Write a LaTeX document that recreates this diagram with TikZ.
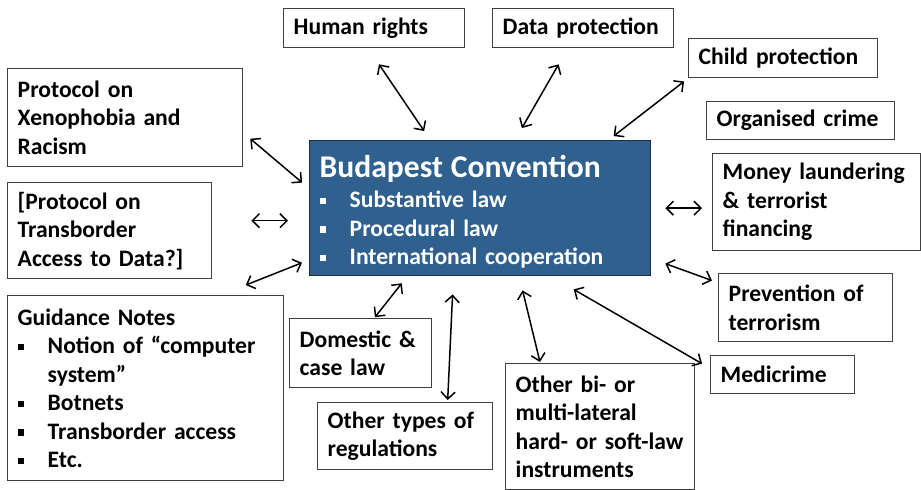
\documentclass[tikz,border=0pt]{standalone}
\usepackage{fontspec}
\setmainfont{Carlito}
\usepackage{tikz}
\usetikzlibrary{arrows.meta}

\definecolor{convblue}{RGB}{47,96,142}
\definecolor{convedge}{RGB}{28,50,74}
\newcommand{\sqb}[1][black]{\makebox[15pt][l]{\textcolor{#1}{\rule[1.6pt]{3.3pt}{3.3pt}}}}

\begin{document}
\begin{tikzpicture}[x=0.5pt, y=-0.5pt,
  box/.style={draw=black!75, line width=0.7pt, anchor=north west, align=left,
    inner xsep=5pt, inner ysep=0pt, font={\fontsize{11.8}{14.25}\selectfont\bfseries}},
  link/.style={{Straight Barb[length=3.5pt,width=7pt]}-{Straight Barb[length=3.5pt,width=7pt]},
    line width=0.75pt}]
\useasboundingbox (0,0) rectangle (921,490);

% centre
\node[box, draw=convedge, fill=convblue, text=white, text width=160.5pt, minimum height=67.5pt] (bc) at (309,140)
  {\rule{0pt}{14.5pt}{\fontsize{15.8}{19}\selectfont Budapest Convention}\\[1pt]
   \sqb[white]Substantive law\\ \sqb[white]Procedural law\\ \sqb[white]International cooperation};

% top row
\node[box, text width=80.5pt, minimum height=19.5pt] (hr) at (283,8) {Human rights};
\node[box, text width=80.5pt, minimum height=19.5pt] (dp) at (492,8) {Data protection};

% right side
\node[box, text width=84.5pt, minimum height=19.5pt] (cp) at (688,38) {Child protection};
\node[box, text width=84pt, minimum height=19pt] (oc) at (706,101) {Organised crime};
\node[box, text width=94pt, minimum height=48.5pt] (ml) at (712,153) {Money laundering\\ \& terrorist\\ financing};
\node[box, text width=77pt, minimum height=34pt] (pt) at (718,273) {Prevention of\\ terrorism};
\node[box, text width=62pt, minimum height=19pt] (mc) at (710,355) {Medicrime};

% bottom
\node[box, text width=84.5pt, minimum height=63pt] (ob) at (505,363) {Other bi- or\\ multi-lateral\\ hard- or soft-law\\ instruments};
\node[box, text width=77.5pt, minimum height=33.5pt] (ot) at (317,402) {Other types of\\ regulations};
\node[box, text width=61pt, minimum height=34.5pt] (dc) at (289,318) {Domestic \&\\ case law};

% left side
\node[box, text width=128pt, minimum height=92.5pt] (gn) at (7,295)
  {Guidance Notes\\ \sqb Notion of “computer\\ \hspace*{15pt}system”\\ \sqb Botnets\\ \sqb Transborder access\\ \sqb Etc.};
\node[box, text width=92pt, minimum height=48pt] (tb) at (7,182) {[Protocol on\\ Transborder\\ Access to Data?]};
\node[box, text width=107.5pt, minimum height=49pt] (xr) at (7,68) {Protocol on\\ Xenophobia and\\ Racism};

% links
\draw[link, shorten <=9.6pt, shorten >=5.4pt] ([xshift=-3pt]hr.south) -- ([xshift=-25pt]bc.north);
\draw[link, shorten <=9.2pt, shorten >=6.9pt] ([xshift=-7.7pt]dp.south) -- ([xshift=17.4pt]bc.north);
\draw[link, shorten <=2.5pt, shorten >=3.2pt] (cp.south west) -- ([xshift=64.2pt]bc.north);
\draw[link, shorten <=7pt, shorten >=5pt] (bc.east) -- (bc.east -| ml.west);
\draw[link, shorten <=7.4pt, shorten >=3.2pt] ([yshift=-25.2pt]bc.east) -- ([yshift=12.5pt]pt.west);
\draw[link, shorten <=13pt, shorten >=4.6pt] ([xshift=35.5pt]bc.south) -- ([yshift=3.2pt]mc.west);
\draw[link, shorten <=7.2pt, shorten >=0.5pt] ([xshift=19.5pt]bc.south) -- ([xshift=-30pt]ob.north);
\draw[link, shorten <=9pt, shorten >=1pt] ([xshift=-13.4pt]bc.south) -- ([xshift=21.2pt]ot.north);
\draw[link, shorten <=0.5pt, shorten >=4.4pt] ([xshift=6.8pt]dc.north) -- ([xshift=-36.5pt]bc.south);
\draw[link, shorten <=13.5pt, shorten >=3.8pt] ([xshift=37.5pt]gn.north) -- ([yshift=-25.9pt]bc.west);
\draw[link, shorten <=19.5pt, shorten >=10.5pt] ([yshift=5pt]tb.east) -- ([yshift=5pt]tb.east -| bc.west);
\draw[link, shorten <=4.5pt, shorten >=4.5pt] ([yshift=-7.6pt]xr.east) -- ([yshift=9.9pt]bc.west);
\end{tikzpicture}
\end{document}
